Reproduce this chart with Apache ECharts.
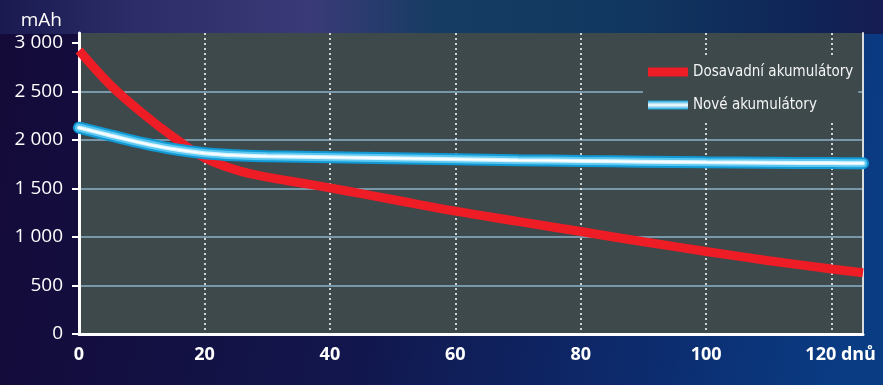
<!DOCTYPE html>
<html>
<head>
<meta charset="utf-8">
<script src="https://cdn.jsdelivr.net/npm/echarts@6/dist/echarts.min.js"></script>
<style>
  html, body { margin: 0; padding: 0; background: #120c3c; }
  #chart { width: 883px; height: 385px; }
</style>
</head>
<body>
<div id="chart"></div>
<script>
// Capacity (mAh) over storage time (days)
const days = [0, 5, 10, 15, 20, 25, 30, 35, 40, 45, 50, 60, 70, 80, 90, 100, 110, 120, 125];
const oldCells = [2920, 2565, 2280, 2030, 1815, 1690, 1615, 1560, 1505, 1445, 1385, 1265, 1160, 1055, 950, 850, 755, 670, 630];
const newCells = [2125, 2045, 1968, 1905, 1862, 1840, 1830, 1825, 1820, 1815, 1810, 1800, 1790, 1782, 1775, 1768, 1764, 1760, 1758];
const xTicks = [0, 20, 40, 60, 80, 100, 120];
const yTicks = [0, 500, 1000, 1500, 2000, 2500, 3000];
const seriesNames = ['Dosavadní akumulátory', 'Nové akumulátory'];

const pairs = vals => days.map((d, i) => [d, vals[i]]);
const fmtThousands = v => String(v).replace(/\B(?=(\d{3})+(?!\d))/g, ' ');

const plotBg = '#3e494c';
const labelFont = "'Open Sans', 'Noto Sans', sans-serif";
const legendFont = "'DejaVu Sans Condensed', 'DejaVu Sans', sans-serif";
const chart = echarts.init(document.getElementById('chart'));

const glowLayer = (width, color, named) => ({
  type: 'line',
  name: named ? seriesNames[1] : undefined,
  data: pairs(newCells),
  smooth: 0.35,
  showSymbol: false,
  silent: true,
  z: 3,
  lineStyle: { width: width, color: color, cap: 'round' },
  itemStyle: { color: '#1aa6e0' }
});

chart.setOption({
  animation: false,
  backgroundColor: {
    type: 'linear', x: 0, y: 0, x2: 1, y2: 0.4,
    colorStops: [
      { offset: 0, color: '#140a38' },
      { offset: 0.45, color: '#12164c' },
      { offset: 0.8, color: '#0c2d70' },
      { offset: 1, color: '#0a3c84' }
    ]
  },
  graphic: [{
    type: 'rect',
    shape: { x: 0, y: 0, width: 883, height: 34 },
    style: {
      fill: {
        type: 'linear', x: 0, y: 0, x2: 1, y2: 0,
        colorStops: [
          { offset: 0, color: '#1a1a50' },
          { offset: 0.15, color: '#2c2c68' },
          { offset: 0.35, color: '#3a3a78' },
          { offset: 0.5, color: '#153c62' },
          { offset: 0.7, color: '#113860' },
          { offset: 0.9, color: '#0f2658' },
          { offset: 1, color: '#161c52' }
        ]
      }
    },
    silent: true,
    z: -1
  }],
  grid: {
    left: 79, right: 20, top: 33, bottom: 51,
    show: true, backgroundColor: plotBg, borderWidth: 0
  },
  legend: {
    orient: 'vertical',
    left: 643, top: 56,
    padding: [7, 5, 7, 5],
    backgroundColor: plotBg,
    itemWidth: 40, itemHeight: 9, itemGap: 15,
    textStyle: {
      color: '#f4f4f4', fontSize: 15, lineHeight: 18,
      fontFamily: legendFont
    },
    data: [
      { name: seriesNames[0], icon: 'rect', itemStyle: { color: '#ee1c25' } },
      {
        name: seriesNames[1], icon: 'rect',
        itemStyle: {
          color: {
            type: 'linear', x: 0, y: 0, x2: 0, y2: 1,
            colorStops: [
              { offset: 0, color: '#15a0dc' },
              { offset: 0.5, color: '#ffffff' },
              { offset: 1, color: '#15a0dc' }
            ]
          }
        }
      }
    ]
  },
  xAxis: {
    type: 'value', min: 0, max: 125, interval: 20,
    axisLine: { show: true, onZero: false, lineStyle: { color: '#ffffff', width: 3 } },
    axisTick: { show: false },
    splitLine: {
      show: true, showMinLine: false, showMaxLine: false,
      lineStyle: { color: '#ffffff', width: 1.5, type: [2, 3] }
    },
    axisLabel: {
      color: '#ffffff', fontSize: 18, fontWeight: 'bold', margin: 12,
      fontFamily: labelFont,
      customValues: xTicks,
      formatter: v => (v === 120 ? '{u|120 dnů}' : String(v)),
      rich: {
        u: {
          color: '#ffffff', fontSize: 18, fontWeight: 'bold',
          fontFamily: labelFont,
          padding: [0, 0, 0, 18]
        }
      }
    }
  },
  yAxis: [{
    type: 'value', min: 0, max: 3100, interval: 500,
    name: 'mAh', nameLocation: 'end', nameGap: 3,
    nameTextStyle: {
      color: '#ffffff', fontSize: 19, align: 'right', padding: [0, 17, 0, 0],
      fontFamily: labelFont
    },
    axisLine: { show: true, lineStyle: { color: '#ffffff', width: 3 } },
    axisTick: { show: true, length: 7, customValues: yTicks, lineStyle: { color: '#ffffff', width: 2 } },
    splitLine: {
      show: true, showMinLine: false, showMaxLine: false,
      lineStyle: { color: '#8cb3c9', width: 1.5 }
    },
    axisLabel: {
      color: '#ffffff', fontSize: 19, margin: 16,
      fontFamily: labelFont,
      customValues: yTicks,
      formatter: v => fmtThousands(v)
    }
  }, {
    type: 'value', min: 0, max: 3100, position: 'right',
    axisLine: { show: true, lineStyle: { color: '#d9dcdc', width: 2 } },
    axisTick: { show: false }, axisLabel: { show: false }, splitLine: { show: false }
  }],
  series: [
    {
      type: 'line',
      name: seriesNames[0],
      data: pairs(oldCells),
      smooth: 0.35,
      showSymbol: false,
      z: 2,
      lineStyle: { width: 9, color: '#ee1c25' },
      itemStyle: { color: '#ee1c25' }
    },
    glowLayer(12, '#1199d6', true),
    glowLayer(8, '#5cc8f0', false),
    glowLayer(4, '#d6f3ff', false),
    glowLayer(1.5, '#ffffff', false)
  ]
});
</script>
</body>
</html>
